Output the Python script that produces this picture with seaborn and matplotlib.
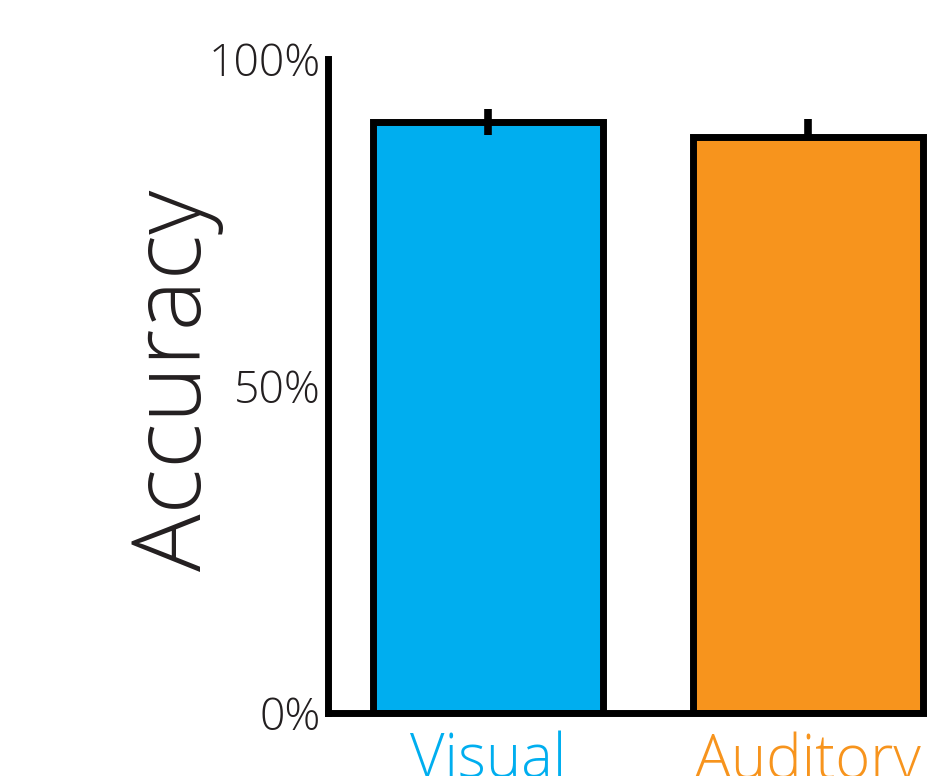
import matplotlib
matplotlib.use("Agg")
import matplotlib.pyplot as plt
import seaborn as sns
import pandas as pd
import numpy as np

categories = ["Visual", "Auditory"]
accuracy = [90.4, 88.1]
err_low = [2.0, 0.0]
err_high = [2.0, 2.8]
bar_colors = ["#00AEEF", "#F7941D"]
yticks = [0, 50, 100]
ytick_labels = ["0%", "50%", "100%"]

sns.set_theme(style="white")
plt.rcParams["font.family"] = ["Open Sans", "DejaVu Sans"]

df = pd.DataFrame({"cond": categories, "acc": accuracy})

fig = plt.figure(figsize=(9.27, 7.76), dpi=100)
ax = fig.add_axes([328/927, 1-713/776, 640/927, 654/776])

sns.barplot(data=df, x="cond", y="acc", hue="cond", palette=bar_colors,
            order=categories, hue_order=categories, width=0.72,
            errorbar=None, legend=False, ax=ax,
            edgecolor="black", linewidth=5, saturation=1)

ax.errorbar(np.arange(len(categories)), accuracy,
            yerr=[err_low, err_high], fmt="none", ecolor="black",
            elinewidth=5.5, capsize=0, zorder=5)

ax.set_xlim(-0.5, 1.5)
ax.set_ylim(0, 100)
ax.set_yticks(yticks)
ax.set_yticklabels(ytick_labels, fontsize=32, fontweight="light", color="#231F20")
ax.set_xticks(range(len(categories)))
ax.set_xticklabels(categories, fontsize=43, fontweight="light")
for lbl, c in zip(ax.get_xticklabels(), bar_colors):
    lbl.set_color(c)
ax.tick_params(axis="both", length=0)
ax.tick_params(axis="y", pad=5)
ax.tick_params(axis="x", pad=13)

for s in ["top", "right"]:
    ax.spines[s].set_visible(False)
for s in ["left", "bottom"]:
    ax.spines[s].set_linewidth(5)
    ax.spines[s].set_color("black")
    ax.spines[s].set_zorder(6)

ax.set_xlabel("")
ax.set_ylabel("Accuracy", fontsize=69, fontweight="light", color="#231F20")
ax.yaxis.set_label_coords(-0.163, 0.508)

fig.savefig("out.png", dpi=100)
